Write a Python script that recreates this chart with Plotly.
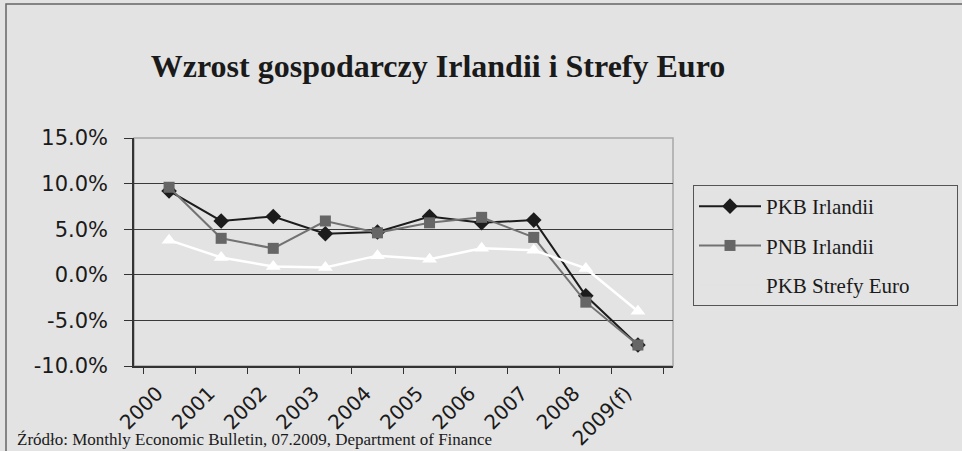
import plotly.graph_objects as go

years = ["2000", "2001", "2002", "2003", "2004", "2005", "2006", "2007", "2008", "2009(f)"]
pkb_irlandii = [9.2, 5.9, 6.4, 4.5, 4.7, 6.4, 5.7, 6.0, -2.3, -7.7]
pnb_irlandii = [9.6, 4.0, 2.9, 5.9, 4.6, 5.7, 6.3, 4.1, -3.0, -7.7]
pkb_strefy_euro = [3.8, 1.9, 0.9, 0.8, 2.1, 1.7, 2.9, 2.7, 0.7, -4.0]
series_names = ["PKB Irlandii", "PNB Irlandii", "PKB Strefy Euro"]
y_ticks = [-10, -5, 0, 5, 10, 15]
y_tick_labels = ["-10.0%", "-5.0%", "0.0%", "5.0%", "10.0%", "15.0%"]

title_text = "Wzrost gospodarczy Irlandii i Strefy Euro"
source_text = "Źródło: Monthly Economic Bulletin, 07.2009, Department of Finance"

BG = "#e3e3e3"
W, H = 962, 451
L, R, T, B = 134, 289, 138, 85
pw, ph = W - L - R, H - T - B
PAD = "\u00a0" * 8  # widens the legend box to the original's width

def px_x(px):
    return (px - L) / pw

def px_y(py):
    return (H - B - py) / ph

fig = go.Figure()
fig.add_trace(go.Scatter(
    x=years, y=pkb_irlandii, name=series_names[0], mode="lines+markers",
    legendgroup="a",
    line=dict(color="#1c1c1c", width=2),
    marker=dict(symbol="diamond", size=12, color="#1c1c1c"),
))
fig.add_trace(go.Scatter(
    x=years, y=pnb_irlandii, name=series_names[1], mode="lines+markers",
    legendgroup="b",
    line=dict(color="#727272", width=2),
    marker=dict(symbol="square", size=11, color="#666666"),
))
fig.add_trace(go.Scatter(
    x=years, y=pkb_strefy_euro, name=series_names[2], mode="lines+markers",
    legendgroup="c", showlegend=False,
    line=dict(color="#ffffff", width=2.5),
    marker=dict(symbol="triangle-up", size=13, color="#ffffff"),
))
# legend-only entry (the white series shows no visible key in the original)
fig.add_trace(go.Scatter(
    x=[None], y=[None], name=series_names[2] + PAD, mode="lines",
    legendgroup="c", line=dict(color=BG, width=0.1), hoverinfo="skip",
))

fig.update_layout(
    width=W, height=H,
    margin=dict(l=L, r=R, t=T, b=B, autoexpand=False),
    paper_bgcolor=BG, plot_bgcolor=BG,
    title=dict(text="<b>" + title_text + "</b>", x=438 / W, xref="container", xanchor="center",
               y=1 - 66 / H, yref="container", yanchor="middle",
               font=dict(family="Liberation Serif", size=32, color="#1a1a1a")),
    showlegend=True,
    legend=dict(x=px_x(693), y=px_y(185), xanchor="left", yanchor="top",
                bgcolor=BG, bordercolor="#555555", borderwidth=1,
                font=dict(family="Liberation Serif", size=21, color="#1a1a1a"),
                itemwidth=62, tracegroupgap=9),
    shapes=[
        dict(type="rect", xref="paper", yref="paper", x0=0, x1=1, y0=0, y1=1,
             line=dict(color="#a8a8a8", width=1.5), layer="between"),
        dict(type="rect", xref="paper", yref="paper", x0=px_x(6), x1=px_x(1200),
             y0=px_y(600), y1=px_y(4), line=dict(color="#666666", width=1.5), layer="below"),
    ],
    annotations=[
        dict(text=source_text, xref="paper", yref="paper", x=px_x(15), y=px_y(439),
             xanchor="left", yanchor="middle", showarrow=False,
             font=dict(family="Liberation Serif", size=17, color="#1a1a1a")),
    ],
)

fig.update_xaxes(
    type="category", tickangle=-45, tickson="boundaries",
    ticks="outside", ticklen=6, tickcolor="#333333",
    ticklabelshift=-12, ticklabelstandoff=6,
    showline=True, linecolor="#333333", linewidth=1.5,
    showgrid=False, automargin=False,
    tickfont=dict(family="DejaVu Sans", size=20, color="#1a1a1a"),
)
fig.update_yaxes(
    range=[-10, 15], tickvals=y_ticks, ticktext=y_tick_labels,
    ticks="outside", ticklen=8, tickcolor="#333333",
    ticklabelstandoff=12,
    showline=True, linecolor="#333333", linewidth=1.5,
    showgrid=True, gridcolor="#3a3a3a", gridwidth=1,
    zeroline=True, zerolinecolor="#3a3a3a", zerolinewidth=1,
    automargin=False,
    tickfont=dict(family="DejaVu Sans", size=21, color="#1a1a1a"),
)

fig.write_html("out.html", config={"displayModeBar": False},
               post_script="document.body.style.margin='0';document.body.style.overflow='hidden';")
